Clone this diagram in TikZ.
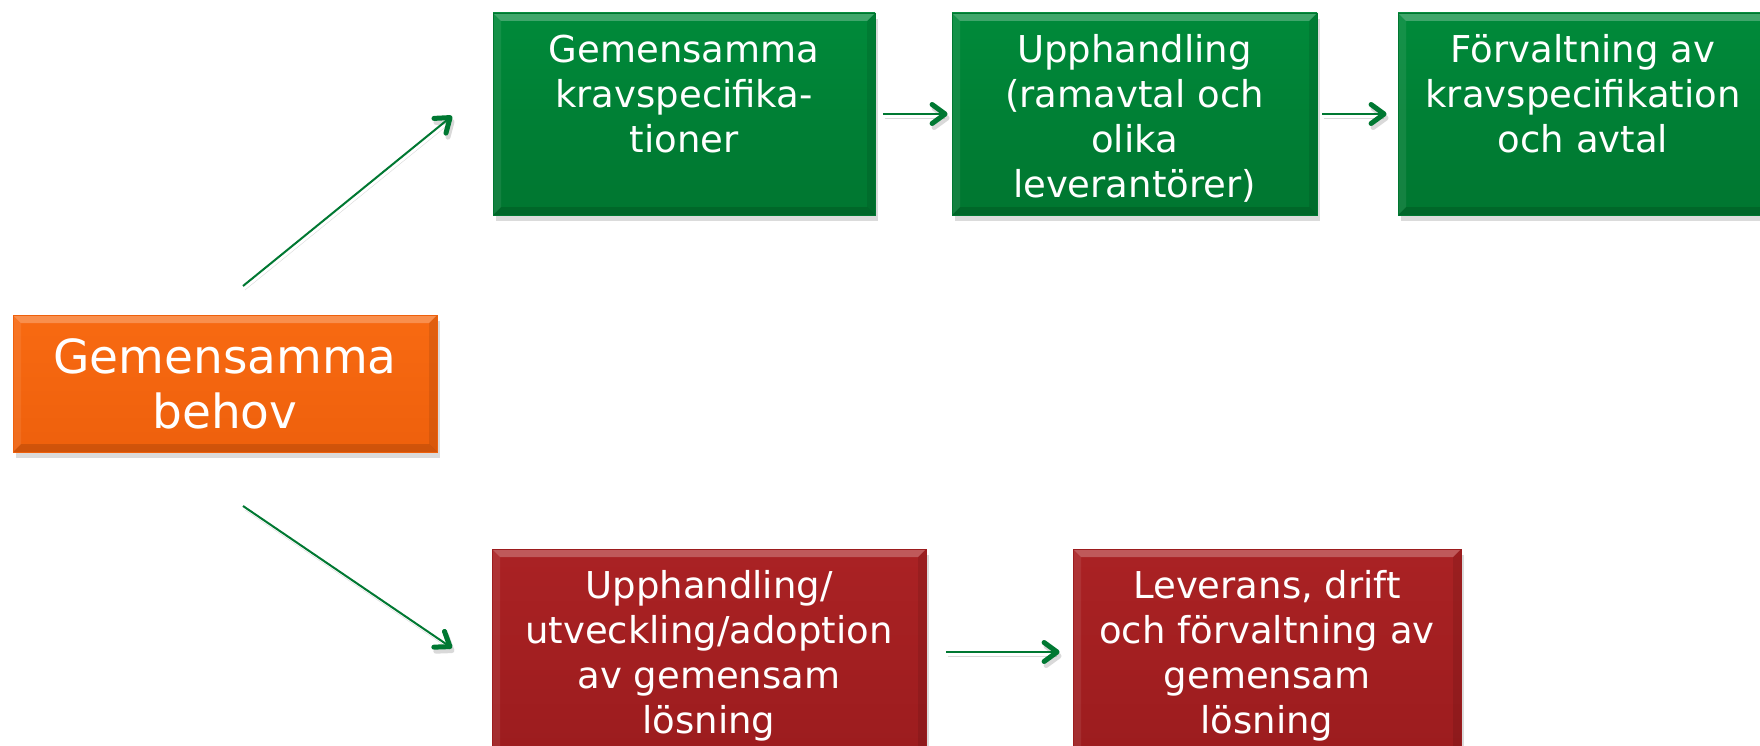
\documentclass[tikz,border=0pt]{standalone}
\usepackage{fontspec}
\setmainfont{DejaVu Sans}
\usetikzlibrary{arrows.meta,shadows}
\definecolor{boxgreen}{RGB}{0,138,58}
\definecolor{boxgreendark}{RGB}{0,118,48}
\definecolor{boxorange}{RGB}{248,106,18}
\definecolor{boxorangedark}{RGB}{238,96,12}
\definecolor{boxred}{RGB}{170,34,36}
\definecolor{boxreddark}{RGB}{156,28,30}
\definecolor{arrowgreen}{RGB}{0,120,50}
\tikzset{
  bevel/.style={path picture={
    \fill[white,opacity=0.25] (path picture bounding box.north west) -- (path picture bounding box.north east)
      -- ([shift={(-8pt,-8pt)}]path picture bounding box.north east) -- ([shift={(8pt,-8pt)}]path picture bounding box.north west) -- cycle;
    \fill[white,opacity=0.08] (path picture bounding box.north west) -- (path picture bounding box.south west)
      -- ([shift={(8pt,8pt)}]path picture bounding box.south west) -- ([shift={(8pt,-8pt)}]path picture bounding box.north west) -- cycle;
    \fill[black,opacity=0.13] (path picture bounding box.south west) -- (path picture bounding box.south east)
      -- ([shift={(-8pt,8pt)}]path picture bounding box.south east) -- ([shift={(8pt,8pt)}]path picture bounding box.south west) -- cycle;
    \fill[black,opacity=0.09] (path picture bounding box.north east) -- (path picture bounding box.south east)
      -- ([shift={(-8pt,8pt)}]path picture bounding box.south east) -- ([shift={(-8pt,-8pt)}]path picture bounding box.north east) -- cycle;
  }},
  boxbase/.style={rectangle, inner sep=0pt, line width=0.8pt, bevel,
    drop shadow={shadow xshift=3pt, shadow yshift=-6pt, opacity=0.28}},
  gbox/.style={boxbase, top color=boxgreen, bottom color=boxgreendark, draw=boxgreendark},
  rbox/.style={boxbase, top color=boxred, bottom color=boxreddark, draw=boxreddark},
  obox/.style={boxbase, top color=boxorange, bottom color=boxorangedark, draw=boxorangedark},
  btext/.style={anchor=north, inner sep=0pt, yshift=-22pt, align=center, text=white,
    font=\fontsize{37}{45}\selectfont},
  arr/.style={draw=arrowgreen, line width=2pt,
    -{Straight Barb[length=13pt, width=19pt, line width=5pt, round]},
    preaction={draw=black, opacity=0.15, transform canvas={shift={(2pt,-4pt)}}}},
}
\begin{document}
\begin{tikzpicture}[x=1pt, y=-1pt]
\useasboundingbox (0,0) rectangle (1760,746);
\clip (0,0) rectangle (1760,746);
\fill[white] (0,0) rectangle (1760,746);

% boxes
\node[obox, minimum width=424pt, minimum height=137pt, text=white, align=center,
  font=\fontsize{47}{55}\selectfont] (need) at (225,383.5) {Gemensamma\\behov};

\node[gbox, minimum width=382pt, minimum height=202pt] (g1) at (684,114) {};
\node[gbox, minimum width=365pt, minimum height=202pt] (g2) at (1134.5,114) {};
\node[gbox, minimum width=370pt, minimum height=202pt] (g3) at (1583,114) {};
\node[rbox, minimum width=434pt, minimum height=206pt] (r1) at (709,652) {};
\node[rbox, minimum width=388pt, minimum height=206pt] (r2) at (1267,652) {};

\node[btext] (g1t) at (g1.north) {Gemensamma\\kravspecifika-\\tioner};
\node[btext] (g2t) at (g2.north) {Upphandling\\(ramavtal och\\olika\\leverantörer)};
\node[btext] (g3t) at (g3.north) {Förvaltning av\\kravspecifikation\\och avtal};
\node[btext] (r1t) at (r1.north) {Upphandling/\\utveckling/adoption\\av gemensam\\lösning};
\node[btext] (r2t) at (r2.north) {Leverans, drift\\och förvaltning av\\gemensam\\lösning};

% connectors
\coordinate (upS) at (243,286);
\coordinate (upE) at (452,116);
\coordinate (dnS) at (243,506);
\coordinate (dnE) at (452,648);
\draw[arr] (upS) -- (upE);
\draw[arr] (dnS) -- (dnE);
\draw[arr, shorten <=8pt, shorten >=4pt] (g1.east) -- (g2.west);
\draw[arr, shorten <=5pt, shorten >=11pt] (g2.east) -- (g3.west);
\draw[arr, shorten <=20pt, shorten >=13pt] (r1.east) -- (r2.west);
\end{tikzpicture}
\end{document}
